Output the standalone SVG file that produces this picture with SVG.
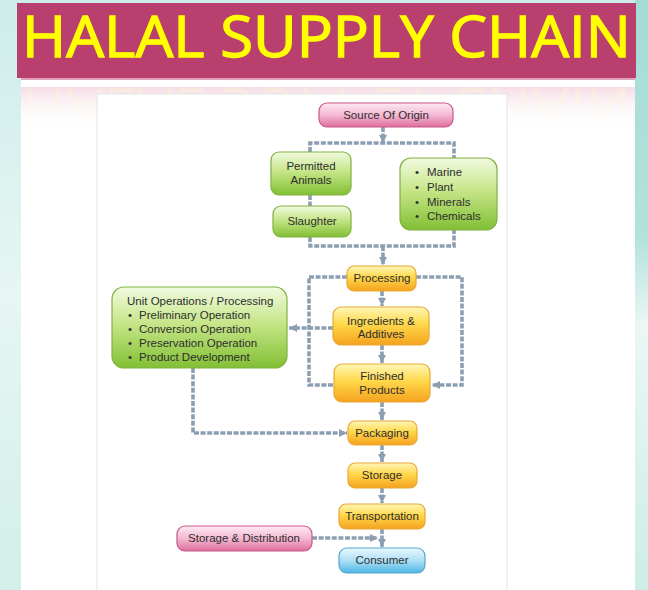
<svg xmlns="http://www.w3.org/2000/svg" width="648" height="590" viewBox="0 0 648 590">
  <defs>
    <linearGradient id="bgTeal" x1="0" y1="0" x2="0" y2="1">
      <stop offset="0" stop-color="#CDEDEA"/>
      <stop offset="0.5" stop-color="#E6F6F4"/>
      <stop offset="1" stop-color="#D2EFEA"/>
    </linearGradient>
    <linearGradient id="bgTealR" x1="0" y1="0" x2="0" y2="1">
      <stop offset="0" stop-color="#A6DCD6"/>
      <stop offset="0.4" stop-color="#B2E2DC"/>
      <stop offset="0.55" stop-color="#EAF7F5"/>
      <stop offset="1" stop-color="#CDEDE7"/>
    </linearGradient>
    <linearGradient id="pinkStrip" x1="0" y1="0" x2="0" y2="1">
      <stop offset="0" stop-color="#F0CAD6"/>
      <stop offset="1" stop-color="#FFFFFF"/>
    </linearGradient>
    <linearGradient id="fadeWhite" x1="0" y1="0" x2="0" y2="1">
      <stop offset="0" stop-color="#FFFFFF" stop-opacity="0.35"/>
      <stop offset="1" stop-color="#FFFFFF" stop-opacity="1"/>
    </linearGradient>
    <linearGradient id="gGreen" x1="0" y1="0" x2="0" y2="1">
      <stop offset="0" stop-color="#F1FAE0"/>
      <stop offset="0.45" stop-color="#C6E688"/>
      <stop offset="1" stop-color="#82BF34"/>
    </linearGradient>
    <linearGradient id="gOrange" x1="0" y1="0" x2="0" y2="1">
      <stop offset="0" stop-color="#FFF7B8"/>
      <stop offset="0.45" stop-color="#FFD84A"/>
      <stop offset="1" stop-color="#F5A21E"/>
    </linearGradient>
    <linearGradient id="gPink" x1="0" y1="0" x2="0" y2="1">
      <stop offset="0" stop-color="#FDEAF2"/>
      <stop offset="0.5" stop-color="#F4B8D2"/>
      <stop offset="1" stop-color="#DE6F9F"/>
    </linearGradient>
    <linearGradient id="gBlue" x1="0" y1="0" x2="0" y2="1">
      <stop offset="0" stop-color="#EAF8FE"/>
      <stop offset="0.5" stop-color="#AEE0F6"/>
      <stop offset="1" stop-color="#4DB5E3"/>
    </linearGradient>
    <clipPath id="stripClip">
      <rect x="21" y="87" width="614" height="40"/>
    </clipPath>
    <marker id="arrow" markerUnits="userSpaceOnUse" markerWidth="9" markerHeight="9" refX="8" refY="4.5" orient="auto">
      <path d="M0 0.5 L8 4.5 L0 8.5 z" fill="#8C9FB2"/>
    </marker>
    <style>
      .title { font-family: "Open Sans", "Liberation Sans", sans-serif; font-size: 56px; fill: #FFFF00; stroke: #FFFF00; stroke-width: 1.3; }
      .lbl { font-family: "Liberation Sans", Arial, sans-serif; font-size: 11.5px; fill: #2E2E2E; }
      .mid { text-anchor: middle; }
      .green { fill: url(#gGreen); stroke: #7FB140; stroke-width: 1.2; }
      .orange { fill: url(#gOrange); stroke: #E9A736; stroke-width: 1.2; }
      .pink { fill: url(#gPink); stroke: #C9578A; stroke-width: 1.2; }
      .blue { fill: url(#gBlue); stroke: #55A6CD; stroke-width: 1.2; }
      .link { fill: none; stroke: #8C9FB2; stroke-width: 3.6; stroke-dasharray: 5 1.6; }
      .arr { marker-end: url(#arrow); }
    </style>
  </defs>

  <!-- slide background -->
  <rect x="0" y="0" width="648" height="590" fill="url(#bgTeal)"/>
  <rect x="635" y="0" width="13" height="590" fill="url(#bgTealR)"/>
  <rect x="21" y="78" width="614" height="512" fill="#FFFFFF"/>

  <!-- title banner -->
  <rect x="17" y="3" width="619" height="75" fill="#B93F6E"/>
  <text class="title" x="22" y="57" textLength="609" lengthAdjust="spacingAndGlyphs">HALAL SUPPLY CHAIN</text>
  <rect x="21" y="78" width="614" height="2" fill="#E2A3BA"/>

  <!-- faded reflection strip under the banner -->
  <rect x="21" y="87" width="614" height="40" fill="url(#pinkStrip)"/>
  <g clip-path="url(#stripClip)" opacity="0.3">
    <text class="title" x="22" y="-88" transform="scale(1,-1)" textLength="609" lengthAdjust="spacingAndGlyphs" style="fill:#FFF4B0;stroke:none">HALAL SUPPLY CHAIN</text>
  </g>
  <rect x="21" y="87" width="614" height="40" fill="url(#fadeWhite)"/>

  <!-- chart panel -->
  <rect x="97" y="94" width="410" height="500" fill="#FFFFFF" stroke="#E4E4E4" stroke-width="1"/>

  <!-- connectors -->
  <g id="connectors">
    <path class="link arr" d="M383 127 V143"/>
    <path class="link" d="M310 152 V143 H454 V158"/>
    <path class="link" d="M310 195 V206"/>
    <path class="link" d="M310 237 V246 H454 V230"/>
    <path class="link arr" d="M383 246 V265"/>
    <path class="link arr" d="M382 291 V306"/>
    <path class="link arr" d="M382 345 V363"/>
    <path class="link arr" d="M382 402 V420"/>
    <path class="link" d="M347 277 H309 V385 H333"/>
    <path class="link arr" d="M416 277 H462 V385 H432"/>
    <path class="link arr" d="M333 328 H289"/>
    <path class="link arr" d="M193 368 V433 H347"/>
    <path class="link arr" d="M382 445 V462"/>
    <path class="link arr" d="M382 488 V503"/>
    <path class="link arr" d="M382 529 V547"/>
    <path class="link arr" d="M312 538 H378"/>
  </g>

  <!-- nodes -->
  <g id="source-of-origin">
    <rect class="pink" x="319" y="103" width="134" height="24" rx="8"/>
    <text class="lbl mid" x="386" y="119">Source Of Origin</text>
  </g>
  <g id="permitted-animals">
    <rect class="green" x="271" y="152" width="80" height="43" rx="8"/>
    <text class="lbl mid" x="311" y="170">Permitted<tspan x="311" dy="14">Animals</tspan></text>
  </g>
  <g id="slaughter">
    <rect class="green" x="273" y="206" width="78" height="31" rx="8"/>
    <text class="lbl mid" x="312" y="225">Slaughter</text>
  </g>
  <g id="raw-materials">
    <rect class="green" x="400" y="158" width="97" height="72" rx="11"/>
    <text class="lbl" x="415" y="176">•<tspan x="427">Marine</tspan><tspan x="415" dy="15">•</tspan><tspan x="427">Plant</tspan><tspan x="415" dy="15">•</tspan><tspan x="427">Minerals</tspan><tspan x="415" dy="14">•</tspan><tspan x="427">Chemicals</tspan></text>
  </g>
  <g id="processing">
    <rect class="orange" x="347" y="266" width="69" height="25" rx="7"/>
    <text class="lbl mid" x="382" y="282">Processing</text>
  </g>
  <g id="ingredients-additives">
    <rect class="orange" x="333" y="307" width="96" height="38" rx="8"/>
    <text class="lbl mid" x="381" y="325">Ingredients &amp;<tspan x="381" dy="13">Additives</tspan></text>
  </g>
  <g id="finished-products">
    <rect class="orange" x="334" y="364" width="96" height="38" rx="8"/>
    <text class="lbl mid" x="382" y="380">Finished<tspan x="382" dy="14">Products</tspan></text>
  </g>
  <g id="unit-operations">
    <rect class="green" x="112" y="287" width="175" height="81" rx="12"/>
    <text class="lbl" x="127" y="305">Unit Operations / Processing<tspan x="128" dy="14">•</tspan><tspan x="139">Preliminary Operation</tspan><tspan x="128" dy="14">•</tspan><tspan x="139">Conversion Operation</tspan><tspan x="128" dy="14">•</tspan><tspan x="139">Preservation Operation</tspan><tspan x="128" dy="14">•</tspan><tspan x="139">Product Development</tspan></text>
  </g>
  <g id="packaging">
    <rect class="orange" x="348" y="421" width="69" height="24" rx="7"/>
    <text class="lbl mid" x="382" y="437">Packaging</text>
  </g>
  <g id="storage">
    <rect class="orange" x="348" y="463" width="69" height="25" rx="7"/>
    <text class="lbl mid" x="382" y="479">Storage</text>
  </g>
  <g id="transportation">
    <rect class="orange" x="339" y="504" width="86" height="25" rx="7"/>
    <text class="lbl mid" x="382" y="520">Transportation</text>
  </g>
  <g id="storage-distribution">
    <rect class="pink" x="177" y="526" width="135" height="25" rx="8"/>
    <text class="lbl mid" x="244" y="542">Storage &amp; Distribution</text>
  </g>
  <g id="consumer">
    <rect class="blue" x="339" y="548" width="86" height="25" rx="8"/>
    <text class="lbl mid" x="382" y="564">Consumer</text>
  </g>
</svg>
